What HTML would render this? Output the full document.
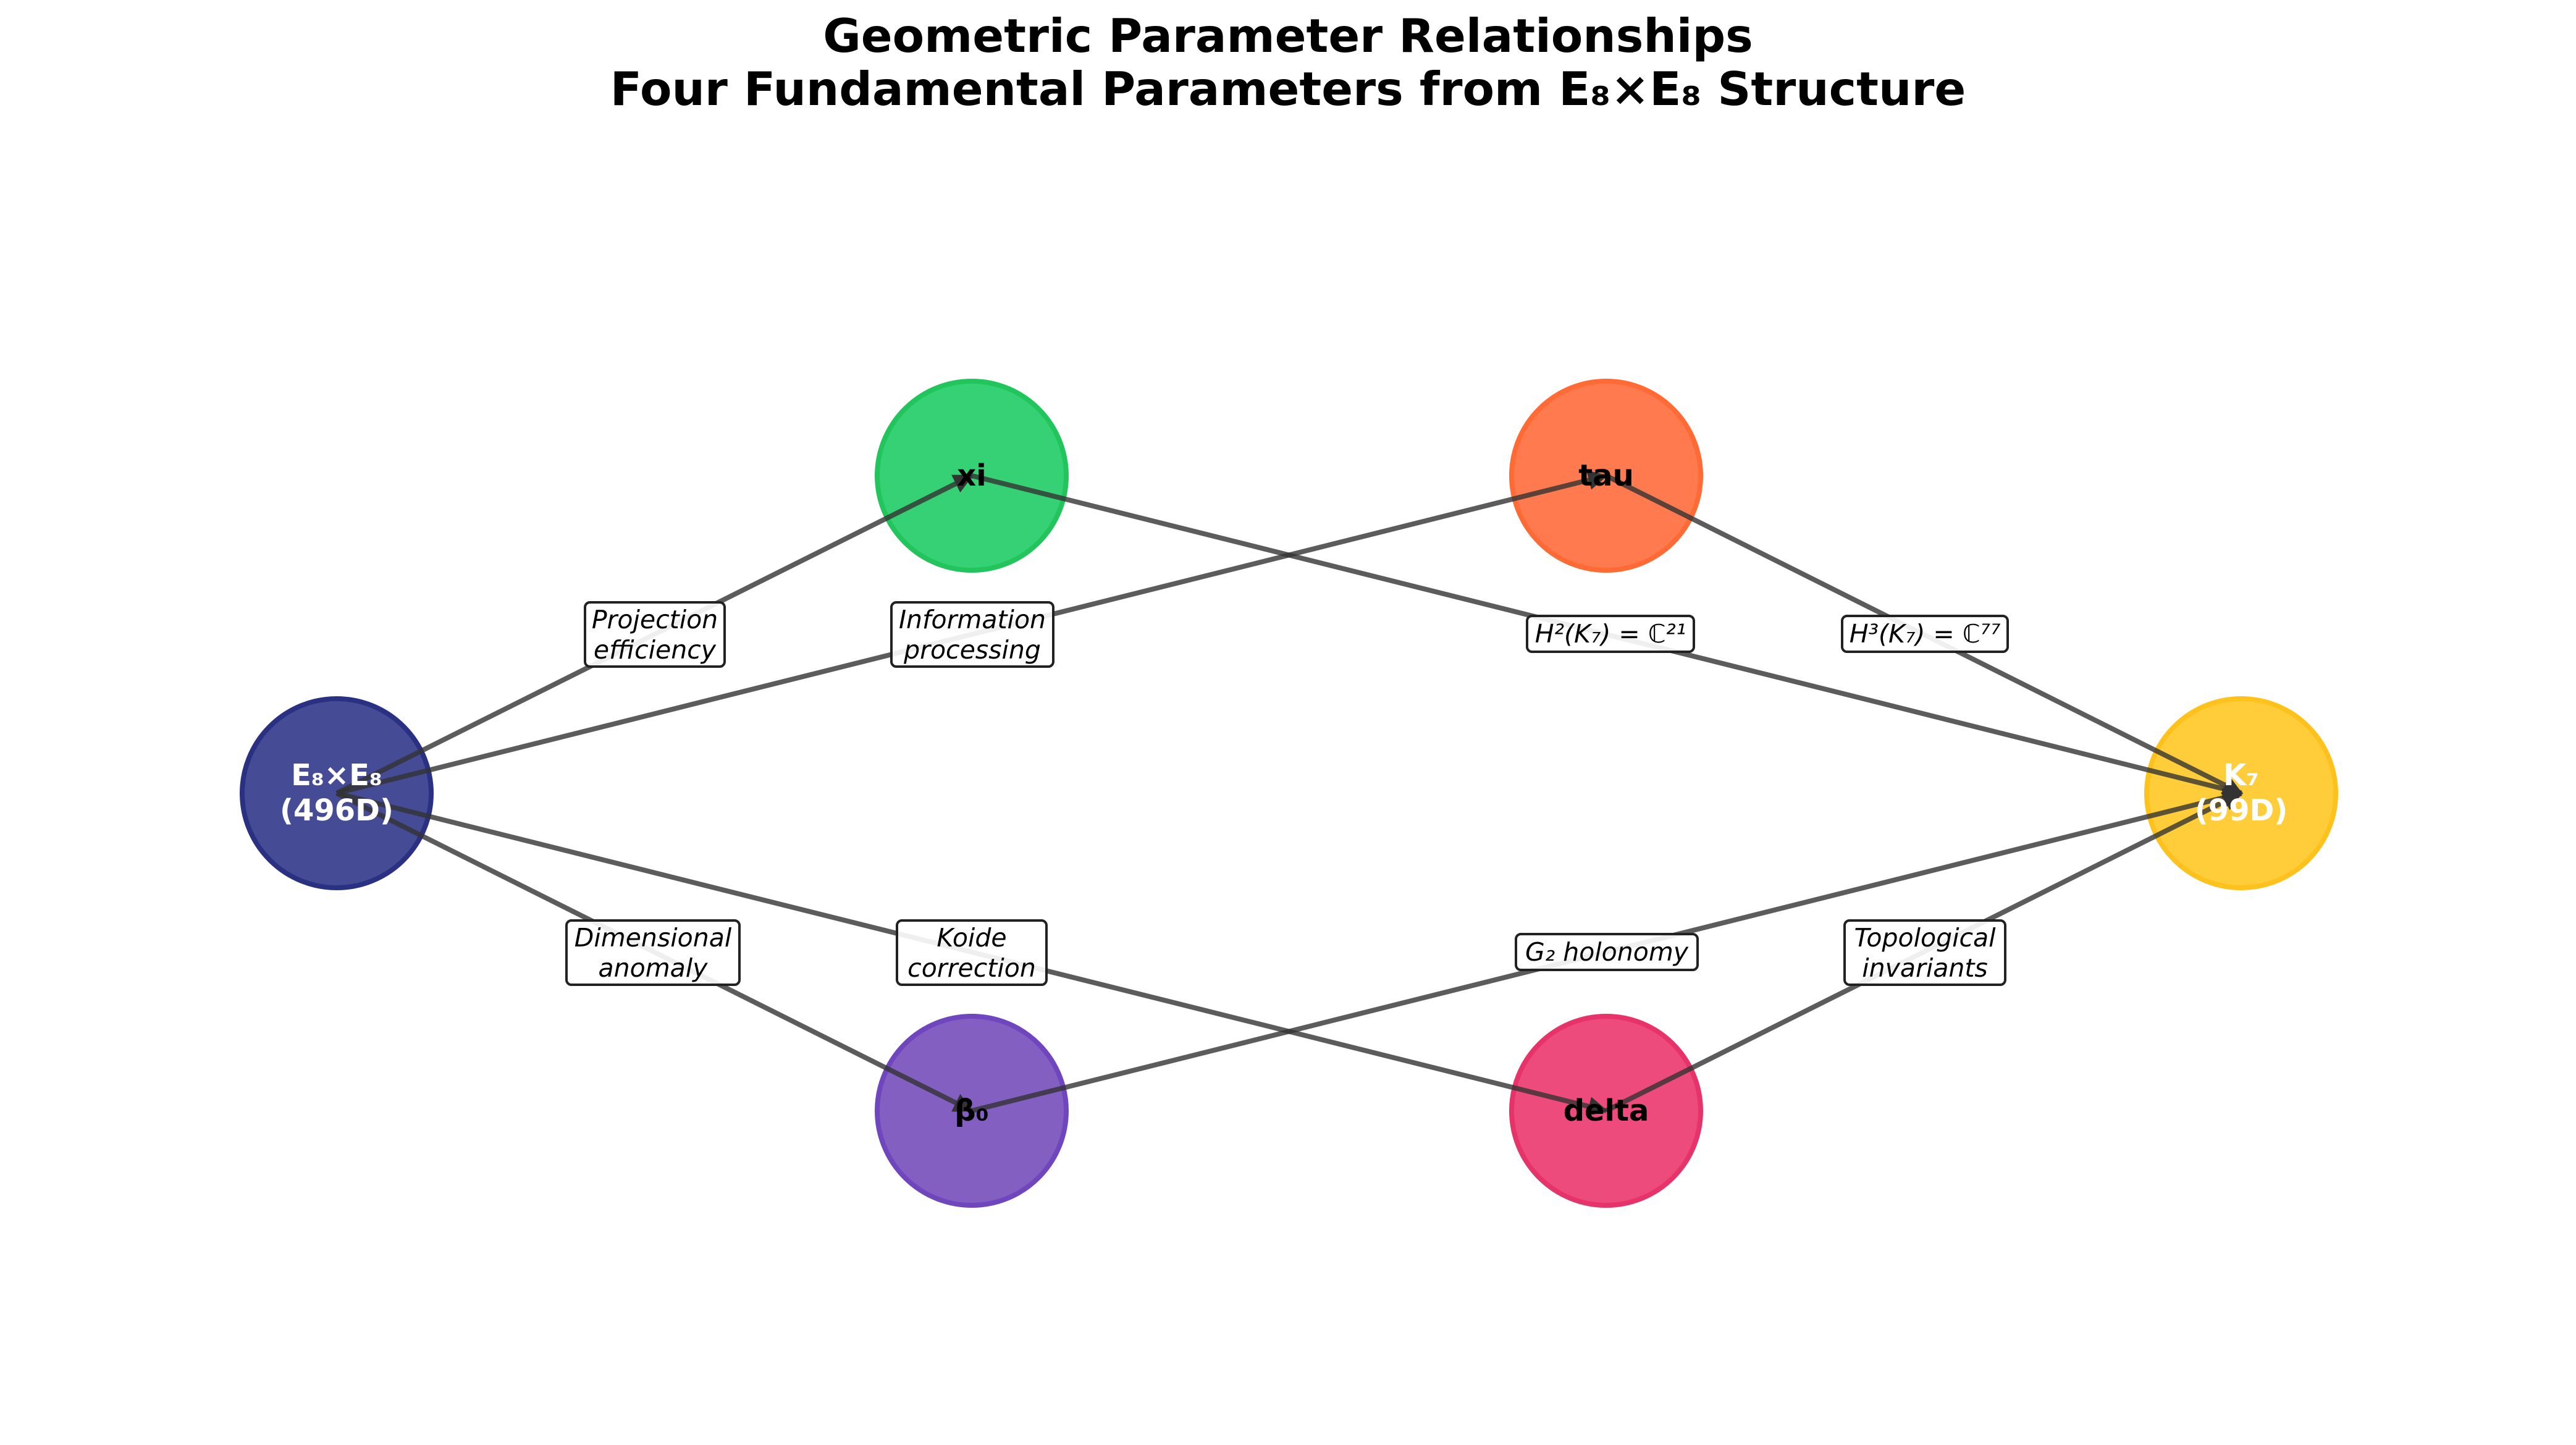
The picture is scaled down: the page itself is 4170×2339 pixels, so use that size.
<!DOCTYPE html>
<html><head><meta charset="utf-8"><style>html,body{margin:0;padding:0;background:#fff}svg{display:block}</style></head><body>
<svg width="4170" height="2339" viewBox="0 0 4170 2339" xmlns="http://www.w3.org/2000/svg">
<defs>
<marker id="a" viewBox="0 0 10 10" refX="9" refY="5" markerWidth="4" markerHeight="4" orient="auto"><path d="M0,0 L10,5 L0,10 z" fill="#333"/></marker>
</defs>
<g font-family="DejaVu Sans, Liberation Sans, sans-serif" font-weight="bold" font-size="75" text-anchor="middle" fill="#000">
<text x="2085" y="84">Geometric Parameter Relationships</text>
<text x="2085" y="170">Four Fundamental Parameters from E₈×E₈ Structure</text>
</g>
<g stroke-width="8">
<circle cx="545" cy="1284" r="153" fill="#454c95" stroke="#2a3082"/>
<circle cx="1573" cy="770" r="153" fill="#35d174" stroke="#22c45c"/>
<circle cx="2600" cy="770" r="153" fill="#ff7a4e" stroke="#ff6a35"/>
<circle cx="3628" cy="1284" r="153" fill="#ffcd3a" stroke="#ffc21c"/>
<circle cx="1573" cy="1798" r="153" fill="#835fc2" stroke="#7046bf"/>
<circle cx="2600" cy="1798" r="153" fill="#ee4b7d" stroke="#e6336a"/>
</g>
<g stroke="#333" stroke-opacity="0.8" stroke-width="8" fill="none" marker-end="url(#a)">
<line x1="545" y1="1284" x2="1573" y2="770"/>
<line x1="545" y1="1284" x2="2600" y2="770"/>
<line x1="545" y1="1284" x2="1573" y2="1798"/>
<line x1="545" y1="1284" x2="2600" y2="1798"/>
<line x1="1573" y1="770" x2="3628" y2="1284"/>
<line x1="2600" y1="770" x2="3628" y2="1284"/>
<line x1="1573" y1="1798" x2="3628" y2="1284"/>
<line x1="2600" y1="1798" x2="3628" y2="1284"/>
</g>
<g font-family="DejaVu Sans, Liberation Sans, sans-serif" font-weight="bold" font-size="48" text-anchor="middle">
<text x="545" y="1271" fill="#fff">E₈×E₈</text>
<text x="545" y="1328" fill="#fff">(496D)</text>
<text x="1573" y="786">xi</text>
<text x="2600" y="786">tau</text>
<text x="3628" y="1271" fill="#fff">K₇</text>
<text x="3628" y="1328" fill="#fff">(99D)</text>
<text x="1573" y="1814">β₀</text>
<text x="2600" y="1814">delta</text>
</g>
<g fill="#fff" fill-opacity="0.9" stroke="#222" stroke-width="4">
<rect x="947" y="975" width="226" height="104" rx="8"/>
<rect x="1443" y="975" width="262" height="104" rx="8"/>
<rect x="2472" y="997" width="270" height="58" rx="8"/>
<rect x="2982" y="997" width="268" height="58" rx="8"/>
<rect x="917" y="1490" width="280" height="104" rx="8"/>
<rect x="1452" y="1490" width="242" height="104" rx="8"/>
<rect x="2454" y="1512" width="294" height="58" rx="8"/>
<rect x="2986" y="1490" width="260" height="104" rx="8"/>
</g>
<g font-family="DejaVu Sans, Liberation Sans, sans-serif" font-style="italic" font-size="41" text-anchor="middle" fill="#000">
<text x="1060" y="1017">Projection</text><text x="1060" y="1066">efficiency</text>
<text x="1574" y="1017">Information</text><text x="1574" y="1066">processing</text>
<text x="2607" y="1040">H²(K₇) = ℂ²¹</text>
<text x="3116" y="1040">H³(K₇) = ℂ⁷⁷</text>
<text x="1057" y="1532">Dimensional</text><text x="1057" y="1581">anomaly</text>
<text x="1573" y="1532">Koide</text><text x="1573" y="1581">correction</text>
<text x="2601" y="1555">G₂ holonomy</text>
<text x="3116" y="1532">Topological</text><text x="3116" y="1581">invariants</text>
</g>
</svg>
</body></html>
